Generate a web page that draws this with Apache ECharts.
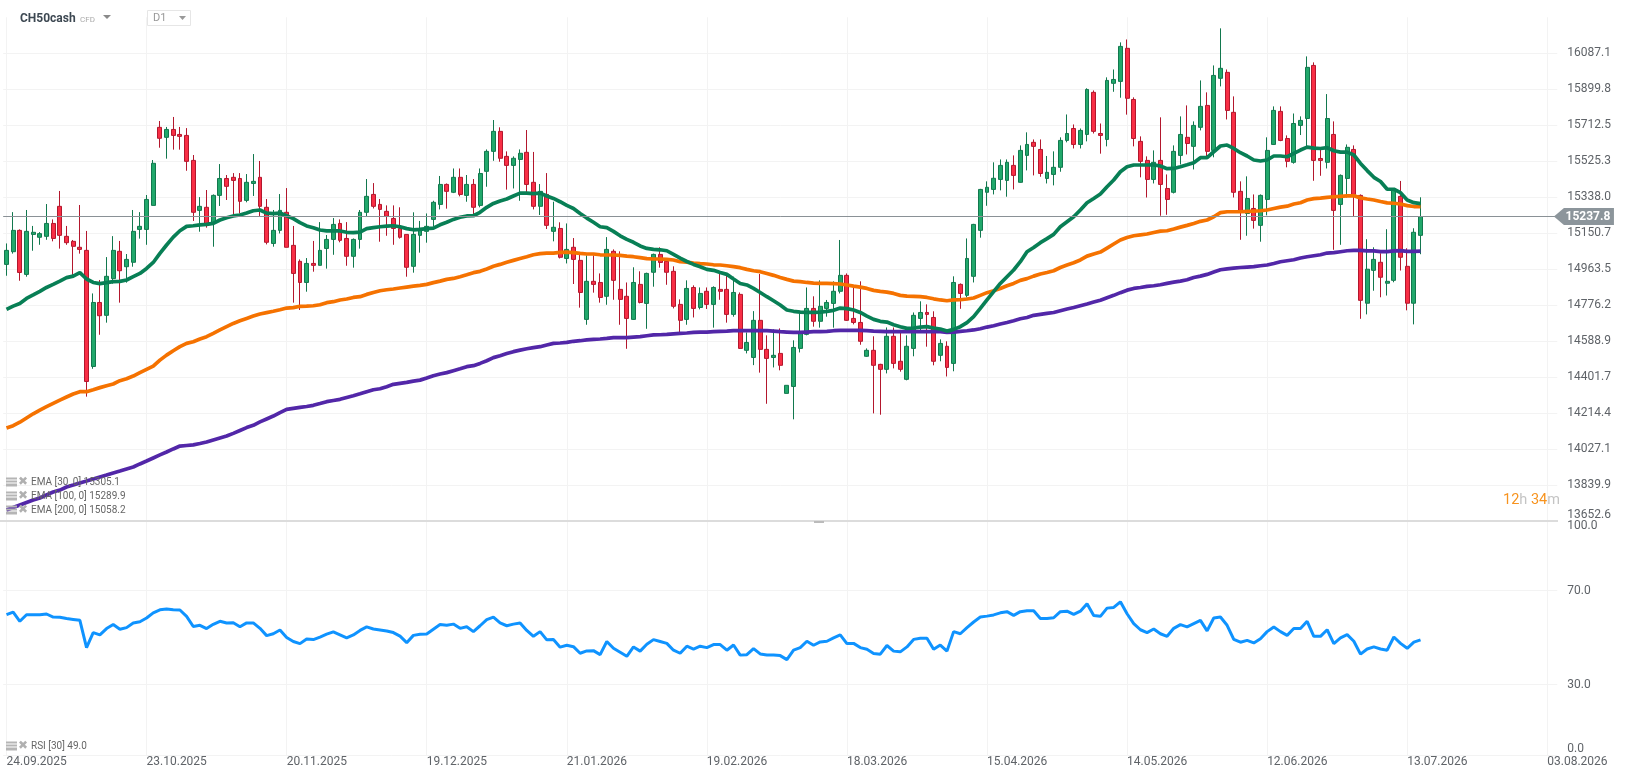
<!DOCTYPE html>
<html><head><meta charset="utf-8">
<style>html,body{margin:0;padding:0;background:#fff}#c{width:1626px;height:779px}</style>
<script src="https://cdn.jsdelivr.net/npm/echarts@6/dist/echarts.min.js"></script>
</head><body><div id="c"></div>
<script>
const tickLabels = ['24.09.2025','23.10.2025','20.11.2025','19.12.2025','21.01.2026','19.02.2026','18.03.2026','15.04.2026','14.05.2026','12.06.2026','13.07.2026','03.08.2026'];
const priceTicks = [13652.6,13839.9,14027.1,14214.4,14401.7,14588.9,14776.2,14963.5,15150.7,15338.0,15525.3,15712.5,15899.8,16087.1];
const rsiTicks = [0,30,70,100];
const lastPrice = 15237.8;
// open, close, low, high
const ohlc = [
[14989,15062,14930,15098],[15055,15166,15045,15261],[15166,14947,14904,15171],[14937,15161,14925,15272],[15145,15156,15060,15189],[15130,15149,15091,15157],[15135,15202,15117,15303],[15202,15124,15109,15223],[15291,15140,15071,15371],[15135,15102,15091,15189],
[15109,15083,14934,15116],[15078,15067,15045,15298],[15062,14380,14301,15163],[14458,14791,14446,14838],[14791,14722,14623,14908],[14724,14927,14686,15027],[14915,15062,14889,15136],[15057,14956,14790,15111],[14977,15015,14894,15043],[15000,15161,14977,15272],
[15171,15187,15123,15261],[15171,15327,15091,15350],[15296,15515,15296,15532],[15702,15645,15596,15735],[15650,15691,15539,15704],[15691,15660,15586,15756],[15665,15655,15586,15704],[15660,15525,15476,15698],[15530,15260,15215,15558],[15270,15291,15159,15339],
[15286,15202,15180,15376],[15202,15348,15081,15353],[15348,15436,15293,15511],[15436,15395,15324,15454],[15442,15426,15246,15464],[15436,15317,15254,15464],[15322,15416,15312,15459],[15410,15421,15345,15563],[15442,15291,15241,15527],[15286,15104,15093,15329],
[15098,15166,15081,15272],[15166,15270,15150,15355],[15260,15078,15078,15386],[15088,14942,14790,15189],[15005,14895,14752,15015],[14895,14994,14847,15022],[14994,14984,14951,15111],[14984,15062,14984,15209],[15072,15119,14967,15142],[15119,15197,15039,15230],
[15202,15114,15104,15223],[15124,15031,14982,15209],[15031,15119,14972,15124],[15119,15260,15071,15272],[15260,15343,15237,15433],[15353,15291,15280,15412],[15301,15275,15107,15329],[15265,15239,15138,15296],[15228,15176,15091,15296],[15176,15130,15123,15286],
[15145,14974,14925,15145],[14979,15145,14946,15260],[15140,15176,15050,15215],[15161,15187,15102,15254],[15223,15312,15187,15320],[15301,15405,15275,15449],[15405,15369,15279,15410],[15364,15442,15360,15488],[15442,15353,15343,15488],[15348,15405,15315,15454],
[15405,15286,15249,15433],[15296,15462,15286,15488],[15473,15577,15393,15587],[15577,15681,15528,15740],[15681,15541,15523,15702],[15551,15504,15378,15577],[15504,15541,15384,15551],[15535,15567,15320,15587],[15572,15405,15358,15688],[15416,15291,15275,15574],
[15291,15369,15246,15407],[15353,15192,15173,15464],[15161,15182,15109,15315],[15176,15026,15020,15208],[15020,15067,14994,15202],[15078,15015,14887,15126],[15010,14843,14764,15041],[14703,14901,14675,15036],[14901,14885,14842,15036],[14895,14817,14790,14942],
[14823,15067,14779,15131],[15057,14906,14805,15067],[14859,14807,14675,15057],[14823,14708,14550,14895],[14703,14895,14700,14974],[14885,14791,14786,14953],[14786,14942,14654,14946],[14948,15041,14873,15045],[15041,14999,14972,15078],[15005,14948,14883,15015],
[14953,14771,14760,14979],[14781,14698,14625,14807],[14703,14864,14675,14906],[14869,14760,14713,14880],[14765,14838,14755,14869],[14849,14781,14757,14869],[14781,14869,14660,14875],[14859,14849,14805,14951],[14859,14729,14686,14932],[14729,14843,14717,14925],
[14833,14552,14550,14843],[14542,14583,14526,14635],[14505,14698,14465,14746],[14698,14547,14426,14939],[14547,14500,14264,14620],[14505,14516,14453,14651],[14526,14464,14438,14656],[14318,14360,14318,14360],[14354,14557,14183,14594],[14552,14630,14531,14734],
[14625,14760,14620,14869],[14760,14693,14665,14823],[14693,14771,14660,14906],[14760,14791,14717,14804],[14786,14849,14660,14901],[14849,14932,14838,15116],[14932,14698,14695,14942],[14708,14687,14677,14869],[14687,14589,14571,14901],[14511,14542,14508,14552],
[14542,14464,14214,14615],[14469,14443,14207,14472],[14443,14615,14422,14661],[14615,14474,14448,14661],[14485,14443,14431,14648],[14391,14563,14386,14620],[14552,14724,14511,14739],[14708,14739,14641,14797],[14739,14729,14561,14781],[14713,14485,14464,14745],
[14516,14578,14485,14599],[14563,14453,14406,14589],[14474,14895,14433,14927],[14885,14838,14758,14890],[14828,15020,14817,15124],[14927,15197,14895,15200],[15166,15379,15128,15382],[15364,15390,15294,15421],[15379,15437,15353,15520],[15431,15504,15374,15535],
[15426,15520,15341,15535],[15504,15452,15379,15556],[15416,15582,15414,15608],[15556,15613,15478,15676],[15624,15603,15452,15639],[15587,15462,15445,15639],[15436,15468,15410,15553],[15457,15494,15400,15577],[15494,15634,15471,15650],[15634,15670,15624,15769],
[15696,15613,15592,15717],[15613,15686,15592,15696],[15665,15899,15629,15905],[15884,15681,15670,15894],[15670,15660,15565,15722],[15639,15946,15603,15962],[15931,15951,15887,16003],[15941,16123,15856,16144],[16113,15853,15768,16159],[15847,15644,15603,15858],
[15629,15525,15442,15655],[15530,15431,15337,15551],[15431,15520,15410,15582],[15530,15405,15242,15754],[15384,15327,15247,15457],[15364,15577,15358,15608],[15556,15665,15509,15759],[15650,15618,15561,15816],[15603,15712,15483,15733],[15702,15811,15686,15946],
[15816,15577,15551,15884],[15582,15972,15546,16024],[15957,16009,15915,16217],[15988,15790,15743,16003],[15780,15364,15337,15863],[15369,15260,15117,15421],[15254,15332,15138,15447],[15280,15218,15175,15353],[15192,15348,15107,15353],[15327,15582,15244,15650],
[15613,15790,15610,15811],[15785,15634,15630,15811],[15644,15525,15494,15660],[15520,15722,15513,15774],[15712,15738,15662,15759],[15748,16014,15598,16071],[16024,15530,15424,16040],[15540,15530,15450,15598],[15520,15748,15488,15875],[15665,15270,15065,15733],
[15301,15452,15091,15457],[15436,15598,15337,15613],[15587,15353,15237,15608],[15348,14802,14706,15353],[14787,14964,14729,15120],[14958,15015,14852,15078],[15000,14922,14818,15047],[14891,14901,14827,15172],[14906,15374,14896,15385],[15343,15026,14957,15423],
[14979,14787,14750,15073],[14787,15156,14677,15177],[15140,15237.8,15042,15338]
];
const ema30 = [14755,14772,14786,14812,14830,14849,14869,14885,14902,14920,14928,14946,14913,14895,14889,14894,14899,14901,14908,14925,14942,14968,14999,15046,15090,15131,15164,15187,15190,15195,15197,15202,15220,15232,15241,15246,15256,15268,15272,15256,15253,15256,15242,15227,15206,15189,15180,15168,15163,15164,15163,
15156,15154,15157,15175,15180,15185,15188,15190,15185,15175,15169,15171,15175,15178,15195,15208,15223,15234,15241,15242,15260,15286,15306,15319,15329,15345,15360,15360,15357,15360,15345,15332,15315,15296,15280,15254,15230,15208,15185,15180,15161,15138,15119,15104,15085,15072,15067,15065,15060,15041,15022,
15004,14989,14977,14963,14958,14947,14937,14913,14890,14882,14864,14843,14821,14800,14778,14752,14745,14741,14739,14739,14741,14745,14750,14762,14759,14752,14739,14720,14703,14693,14689,14675,14665,14656,14658,14663,14665,14658,14653,14642,14651,14665,14686,14717,14760,14804,14847,14890,14925,14960,15003,
15055,15077,15102,15123,15145,15185,15211,15237,15272,15310,15332,15355,15393,15428,15471,15497,15506,15506,15506,15507,15501,15487,15488,15497,15507,15518,15544,15544,15575,15605,15610,15592,15570,15553,15532,15527,15532,15553,15553,15549,15566,15584,15599,15594,15592,15596,15580,15573,15573,15558,15514,15477,15442,15420,15380,15380,15362,15324,15310,15305.1];
const ema100 = [14138,14150,14168,14190,14212,14231,14249,14266,14283,14299,14315,14327,14327,14337,14348,14358,14367,14384,14394,14408,14426,14443,14460,14491,14517,14540,14561,14578,14587,14601,14613,14630,14648,14665,14682,14696,14708,14720,14731,14738,14745,14753,14762,14764,14771,14772,14774,14779,14790,14795,14804,
14809,14817,14821,14833,14843,14852,14857,14861,14866,14871,14876,14880,14885,14894,14902,14911,14916,14925,14935,14946,14953,14965,14979,14989,15000,15010,15020,15029,15039,15045,15048,15048,15052,15053,15050,15046,15043,15043,15039,15038,15038,15036,15032,15029,15024,15019,15017,15017,15015,15012,15003,
15001,14996,14993,14991,14987,14986,14982,14977,14972,14963,14956,14951,14942,14932,14921,14911,14902,14899,14895,14892,14890,14890,14889,14887,14882,14876,14871,14864,14854,14849,14845,14838,14828,14824,14823,14821,14817,14810,14804,14800,14804,14805,14809,14814,14828,14842,14852,14864,14878,14890,14906,
14915,14928,14939,14947,14956,14973,14986,14998,15012,15032,15043,15053,15074,15095,15116,15129,15138,15143,15147,15155,15162,15164,15173,15183,15192,15202,15213,15220,15237,15258,15263,15263,15263,15265,15266,15268,15272,15280,15287,15292,15303,15310,15324,15331,15334,15338,15341,15343,15345,15346,15335,15329,15324,15316,15309,15307,15303,15295,15290,15289.9];
const ema200 = [13711,13724,13737,13750,13763,13774,13790,13805,13815,13831,13841,13852,13862,13873,13883,13893,13904,13914,13925,13935,13951,13966,13982,13998,14013,14029,14044,14047,14050,14057,14065,14076,14086,14096,14110,14125,14140,14152,14170,14185,14200,14218,14235,14240,14245,14250,14256,14265,14275,14281,14287,
14297,14306,14316,14327,14337,14342,14353,14365,14370,14375,14382,14387,14398,14410,14419,14426,14436,14446,14457,14462,14474,14488,14504,14514,14525,14535,14543,14550,14556,14561,14570,14578,14580,14583,14589,14592,14596,14599,14601,14604,14608,14608,14608,14611,14613,14618,14622,14623,14625,14628,14630,
14632,14635,14637,14637,14639,14641,14642,14644,14644,14644,14644,14644,14644,14642,14639,14637,14635,14635,14637,14639,14639,14641,14644,14646,14646,14646,14646,14644,14642,14641,14639,14639,14639,14639,14639,14639,14639,14639,14639,14635,14637,14641,14644,14648,14654,14663,14670,14679,14687,14696,14706,
14713,14724,14729,14734,14739,14748,14757,14765,14774,14783,14793,14803,14816,14828,14842,14855,14864,14869,14875,14878,14883,14890,14897,14902,14909,14921,14928,14937,14949,14961,14966,14970,14973,14975,14977,14982,14986,14994,15003,15008,15013,15022,15029,15034,15039,15048,15050,15055,15060,15062,15062,15059,15059,15055,15055,15059,15061,15057,15057,15058.2];
const rsi30 = [59.7,60.8,56.9,59.7,59.7,59.7,60.0,58.7,58.6,58.1,57.7,57.3,45.7,52.1,51.1,53.8,55.5,53.5,54.2,56.2,56.7,58.3,60.5,61.8,62.1,61.8,61.7,59.0,54.7,55.2,53.8,55.6,56.9,56.2,56.3,54.6,56.2,56.2,53.9,50.8,51.6,53.2,50.0,48.3,47.4,49.4,49.1,50.2,51.4,52.4,51.1,49.8,51.1,53.0,54.5,53.6,53.2,52.8,52.1,50.6,47.8,50.9,51.4,51.5,53.5,55.5,55.2,55.7,53.9,54.6,52.5,55.0,57.6,58.7,56.2,55.0,55.7,56.2,53.0,50.5,52.5,49.0,49.1,45.9,46.7,46.1,43.3,44.3,44.4,42.7,48.3,45.4,43.7,42.0,46.0,44.2,47.1,49.1,48.3,47.5,44.6,43.3,46.3,45.1,46.3,
45.7,47.0,47.0,44.6,46.8,42.5,42.7,45.3,43.0,42.6,42.6,42.3,40.6,44.6,45.7,48.4,46.7,48.1,48.4,49.8,51.1,47.4,47.5,45.7,45.0,43.2,42.9,46.6,44.2,43.9,46.0,49.2,49.7,49.7,45.0,46.8,44.2,52.5,51.6,54.2,56.6,58.7,59.1,59.6,60.5,61.0,59.4,61.0,61.4,61.4,58.1,58.1,58.4,61.0,61.2,59.8,61.2,64.4,59.4,59.0,62.5,62.8,65.2,60.1,55.9,53.3,52.1,53.6,51.6,50.5,53.9,55.5,54.5,55.9,57.3,52.8,58.3,58.7,55.2,49.2,48.0,48.8,47.7,49.5,52.5,54.5,52.5,50.9,53.8,53.8,56.9,50.5,50.5,53.3,47.4,49.8,51.2,48.4,42.9,45.1,46.0,45.1,44.6,50.2,47.5,45.4,48.0,49.0];

const SLOTS = 233, STEP = 21;
const categories = Array.from({length: SLOTS}, (_, i) => i % STEP === 0 ? tickLabels[i / STEP] : '');
const gridColor = '#f3f3f3';
const axisFont = {fontFamily:'Roboto', fontSize:12, color:'#5f6368'};

function legendRow(y, label) {
  return [
    {type:'rect', shape:{x:6,y:y-5,width:11,height:2}, style:{fill:'#b5b5b5'}, z:50},
    {type:'rect', shape:{x:6,y:y-2,width:11,height:2}, style:{fill:'#b5b5b5'}, z:50},
    {type:'rect', shape:{x:6,y:y+1,width:11,height:3}, style:{fill:'#b5b5b5'}, z:50},
    {type:'text', x:18, y:y-7, style:{text:'✖', fontSize:12, fill:'#b0b0b0', fontFamily:'DejaVu Sans'}, z:50},
    {type:'text', x:31, y:y-6, style:{text:label, fontSize:10, lineHeight:12, fill:'#666', fontFamily:'Roboto'}, z:50}
  ];
}

const chart = echarts.init(document.getElementById('c'), null, {renderer:'canvas'});
chart.setOption({
  animation:false,
  backgroundColor:'#fff',
  grid:[
    {left:3.17, top:17.3, width:1554.1, height:504},
    {left:3.17, top:520, width:1554.1, height:235}
  ],
  xAxis:[
    {type:'category', gridIndex:0, data:categories, boundaryGap:true,
     axisLine:{show:false}, axisTick:{show:false}, axisLabel:{show:false},
     splitLine:{show:true, interval:STEP-1, alignWithLabel:true, lineStyle:{color:gridColor,width:1}}},
    {type:'category', gridIndex:1, data:categories, boundaryGap:true,
     axisLine:{show:false}, axisTick:{show:false},
     axisLabel:{interval:STEP-1, align:'left', margin:1, hideOverlap:false, ...axisFont},
     splitLine:{show:true, interval:STEP-1, alignWithLabel:true, lineStyle:{color:gridColor,width:1}}}
  ],
  yAxis:[
    {type:'value', gridIndex:0, position:'right', min:13652.6, max:16274.4, scale:true,
     axisLine:{show:false}, axisTick:{show:false, customValues:priceTicks},
     axisLabel:{customValues:priceTicks, margin:10, align:'left', padding:[2,0,0,0], formatter:v=>v.toFixed(1), verticalAlignMinLabel:'bottom', ...axisFont},
     splitLine:{show:true, lineStyle:{color:gridColor,width:1}}},
    {type:'value', gridIndex:1, position:'right', min:0, max:100,
     axisLine:{show:false}, axisTick:{show:false, customValues:rsiTicks},
     axisLabel:{customValues:rsiTicks, margin:10, align:'left', formatter:v=>v.toFixed(1), verticalAlignMinLabel:'bottom', verticalAlignMaxLabel:'top', ...axisFont},
     splitLine:{show:true, lineStyle:{color:gridColor,width:1}}}
  ],
  series:[
    {name:'CH50cash', type:'candlestick', xAxisIndex:0, yAxisIndex:0, data:ohlc, barWidth:4.4, clip:false, z:2,
     itemStyle:{color:'#21a86b', color0:'#f82e45', borderColor:'#12784e', borderColor0:'#b3172d', borderWidth:1},
     markLine:{silent:true, symbol:'none', animation:false, label:{show:false},
       lineStyle:{color:'#8a9196', width:1, type:'solid'}, data:[{yAxis:lastPrice}], z:6},
     markPoint:{silent:true, animation:false, z:7,
       data:[{coord:[SLOTS-1, lastPrice], symbol:'path://M0,8.5 L10,0 L60,0 L60,17 L10,17 Z', symbolSize:[60,17], symbolOffset:[30,0],
         itemStyle:{color:'#8c959b'},
         label:{show:true, position:'inside', offset:[4,0], formatter:lastPrice.toFixed(1), color:'#fff', fontFamily:'Roboto', fontSize:12, fontWeight:'bold'}}]}},
    {name:'EMA 200', type:'line', data:ema200, xAxisIndex:0, yAxisIndex:0, symbol:'none', z:3, lineStyle:{color:'#5227a8', width:3.7}},
    {name:'EMA 100', type:'line', data:ema100, xAxisIndex:0, yAxisIndex:0, symbol:'none', z:4, lineStyle:{color:'#f57200', width:3.7}},
    {name:'EMA 30', type:'line', data:ema30, xAxisIndex:0, yAxisIndex:0, symbol:'none', z:5, lineStyle:{color:'#087f55', width:3.7}},
    {name:'RSI', type:'line', data:rsi30, xAxisIndex:1, yAxisIndex:1, symbol:'none', z:3, lineStyle:{color:'#0f93ff', width:3}}
  ],
  graphic:[
    {type:'text', x:20, y:11, style:{text:'CH50cash', fontSize:12, fontWeight:'bold', lineHeight:15, fill:'#3d4852', fontFamily:'Roboto'}},
    {type:'text', x:80, y:15, style:{text:'CFD', fontSize:8, lineHeight:9, fill:'#aaa', fontFamily:'Roboto'}},
    {type:'polygon', shape:{points:[[103,15],[111,15],[107,19]]}, style:{fill:'#8a8a8a'}},
    {type:'rect', shape:{x:147.5,y:10.5,width:43,height:15}, style:{fill:'#fff',stroke:'#e6e6e6',lineWidth:1}},
    {type:'text', x:153, y:12, style:{text:'D1', fontSize:11, lineHeight:13, fill:'#999', fontFamily:'Roboto'}},
    {type:'polygon', shape:{points:[[179,16],[186,16],[182.5,20]]}, style:{fill:'#999'}},
    {type:'rect', shape:{x:0,y:520,width:1558,height:2}, style:{fill:'#dcdcdc'}, z:40},
    {type:'rect', shape:{x:814,y:521,width:10,height:2}, style:{fill:'#bbb'}, z:41},
    {type:'text', x:1503, y:493, style:{rich:{o:{fill:'#f7931e',fontSize:14.5,fontFamily:'Roboto'},g:{fill:'#c4c4c4',fontSize:14.5,fontFamily:'Roboto'}}, text:'{o|12}{g|h }{o|34}{g|m}'}, z:41},
    ...legendRow(482.5,'EMA [30, 0] 15305.1'),
    ...legendRow(496.5,'EMA [100, 0] 15289.9'),
    ...legendRow(510.5,'EMA [200, 0] 15058.2'),
    ...legendRow(746.5,'RSI [30] 49.0')
  ]
});
</script></body></html>
